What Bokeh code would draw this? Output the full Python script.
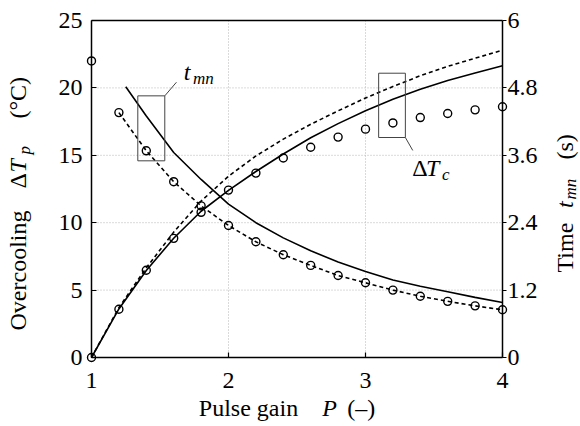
import math
from bokeh.plotting import figure
from bokeh.models import Range1d, LinearAxis, FixedTicker, Label, CustomJSTickFormatter
from bokeh.embed import file_html
from bokeh.resources import INLINE

# ---- data ----
pulse_gain = [1.0, 1.2, 1.4, 1.6, 1.8, 2.0, 2.2, 2.4, 2.6, 2.8, 3.0, 3.2, 3.4, 3.6, 3.8, 4.0]
dTc_measured = [0, 3.58, 6.47, 8.84, 10.77, 12.42, 13.68, 14.8, 15.6, 16.35, 16.94, 17.4, 17.8, 18.1, 18.37, 18.6]
dTp_model = [0, 3.6, 6.45, 8.85, 10.85, 12.4, 13.8, 15.1, 16.3, 17.35, 18.3, 19.15, 19.9, 20.55, 21.1, 21.65]
dTp_dashed = [0, 3.7, 6.65, 9.3, 11.6, 13.45, 14.95, 16.2, 17.3, 18.3, 19.25, 20.1, 20.9, 21.6, 22.2, 22.8]
tmn_measured = [5.28, 4.36, 3.68, 3.13, 2.70, 2.35, 2.06, 1.83, 1.64, 1.46, 1.33, 1.20, 1.09, 1.00, 0.92, 0.85]
tmn_model_gain = [1.25, 1.4, 1.6, 1.8, 2.0, 2.2, 2.4, 2.6, 2.8, 3.0, 3.2, 3.4, 3.6, 3.8, 4.0]
tmn_model = [4.82, 4.3, 3.65, 3.17, 2.73, 2.40, 2.13, 1.90, 1.70, 1.53, 1.38, 1.27, 1.17, 1.07, 0.98]
x_ticks = [1, 2, 3, 4]
left_ticks = [0, 5, 10, 15, 20, 25]
right_ticks = [0, 1.2, 2.4, 3.6, 4.8, 6]

FONT = "Liberation Serif"
FS = 24      # main text size, px
FSUB = 17    # subscript size, px

# axes box: x 1..4, left y 0..25, right y 0..6
X0, X1 = x_ticks[0], x_ticks[-1]
Y0, Y1 = left_ticks[0], left_ticks[-1]
T0, T1 = right_ticks[0], right_ticks[-1]

# the frame covers the whole canvas; ranges are padded so the axes box sits at
# pixels x 91..502, y 20..357 (from top)
W, H = 580, 426
BX0, BX1, BY0, BY1 = 91, 502, 20, 357
sx = (X1 - X0) / (BX1 - BX0)
sy = (Y1 - Y0) / (BY1 - BY0)
st = (T1 - T0) / (BY1 - BY0)

p = figure(width=W, height=H,
           x_range=Range1d(X0 - BX0 * sx, X1 + (W - BX1) * sx),
           y_range=Range1d(Y0 - (H - BY1) * sy, Y1 + BY0 * sy),
           x_axis_type=None, y_axis_type=None,
           output_backend="svg", toolbar_location=None, min_border=0,
           background_fill_color="white", border_fill_color="white")
p.extra_y_ranges = {"time": Range1d(T0 - (H - BY1) * st, T1 + BY0 * st)}
p.outline_line_color = None

# grid lines (dotted) at the inner ticks
for gx in x_ticks[1:-1]:
    p.line([gx, gx], [Y0, Y1], line_color="#b5b5b5", line_dash="1 2", line_width=1)
for gy in left_ticks[1:-1]:
    p.line([X0, X1], [gy, gy], line_color="#b5b5b5", line_dash="1 2", line_width=1)

# axes placed at fixed locations around the box
xa = LinearAxis(ticker=FixedTicker(ticks=x_ticks), fixed_location=Y0, bounds=(X0, X1))
xa.major_tick_in = 5
xa.major_tick_out = 0
xa.major_label_standoff = 15
p.add_layout(xa, "below")

ya = LinearAxis(ticker=FixedTicker(ticks=left_ticks), fixed_location=X0, bounds=(Y0, Y1))
ya.major_tick_in = 5
ya.major_tick_out = 0
ya.major_label_standoff = 9
p.add_layout(ya, "left")

ra = LinearAxis(y_range_name="time", ticker=FixedTicker(ticks=right_ticks),
                formatter=CustomJSTickFormatter(code="return Number(tick.toFixed(1)).toString();"),
                fixed_location=X1, bounds=(T0, T1))
ra.major_tick_in = 0
ra.major_tick_out = 4
ra.major_label_standoff = 1
p.add_layout(ra, "right")

ta = LinearAxis(ticker=FixedTicker(ticks=[]), fixed_location=Y1, bounds=(X0, X1))
p.add_layout(ta, "above")

for ax in (xa, ya, ra, ta):
    ax.axis_label = None
    ax.axis_line_color = "black"
    ax.axis_line_width = 1.5
    ax.major_tick_line_color = "black"
    ax.major_tick_line_width = 1.2
    ax.minor_tick_line_color = None
    ax.major_label_text_font = FONT
    ax.major_label_text_font_size = f"{FS}px"
    ax.major_label_text_color = "black"

# series
p.line(pulse_gain, dTp_model, line_color="black", line_width=1.6)
p.line(pulse_gain, dTp_dashed, line_color="black", line_width=1.6, line_dash="4 3")
p.scatter(pulse_gain, dTc_measured, marker="circle", size=8, fill_color=None,
          line_color="black", line_width=1.4)
p.line(tmn_model_gain, tmn_model, line_color="black", line_width=1.6, y_range_name="time")
p.line(pulse_gain[1:], tmn_measured[1:], line_color="black", line_width=1.6,
       line_dash="4 3", y_range_name="time")
p.scatter(pulse_gain, tmn_measured, marker="circle", size=8, fill_color=None,
          line_color="black", line_width=1.4, y_range_name="time")

# annotation boxes and leaders
p.quad(left=[1.338], right=[1.535], bottom=[14.59], top=[19.41], fill_color=None,
       line_color="#444444", line_width=1)
p.line([1.535, 1.62], [19.41, 20.42], line_color="#444444", line_width=1)
p.quad(left=[3.096], right=[3.291], bottom=[16.32], top=[21.09], fill_color=None,
       line_color="#444444", line_width=1)
p.line([3.291, 3.345], [16.32, 15.36], line_color="#444444", line_width=1)


def lab(xpx, ypx, text, size=FS, style="normal", rotated=False):
    """Place text with its baseline start at canvas pixel (xpx, ypx)."""
    shift = 0.37 * size  # anchor sits at the text's middle, not its baseline
    if rotated:
        xpx -= shift
    else:
        ypx -= shift
    p.add_layout(Label(x=X0 + (xpx - BX0) * sx, y=Y0 + (BY1 - ypx) * sy,
                       x_units="data", y_units="data", text=text,
                       text_font=FONT, text_font_size=f"{size}px", text_font_style=style,
                       text_color="black", angle=math.pi / 2 if rotated else 0.0,
                       text_align="left", text_baseline="alphabetic"))


# in-plot labels
lab(183.3, 80.7, "t", style="italic")
lab(192.5, 84.5, "mn", size=FSUB, style="italic")
lab(411.7, 176, "Δ")
lab(425.5, 176, "T", style="italic")
lab(441.5, 180, "c", size=FSUB, style="italic")

# bottom axis title
lab(198.3, 416.7, "Pulse gain")
lab(321.7, 416.7, "P", style="italic")
lab(346.7, 416.7, "(–)")

# left axis title (rotated, reading upwards)
lab(26, 330, "Overcooling", rotated=True)
lab(26, 188, "Δ", rotated=True)
lab(26, 172, "T", style="italic", rotated=True)
lab(30, 154, "p", size=FSUB, style="italic", rotated=True)
lab(26, 118, "(°C)", rotated=True)

# right axis title (rotated, reading upwards)
lab(573.5, 272, "Time", rotated=True)
lab(573.5, 207.4, "t", style="italic", rotated=True)
lab(576, 199, "mn", size=FSUB, style="italic", rotated=True)
lab(573.5, 159, "(s)", rotated=True)

open("out.html", "w").write(file_html(p, INLINE))
